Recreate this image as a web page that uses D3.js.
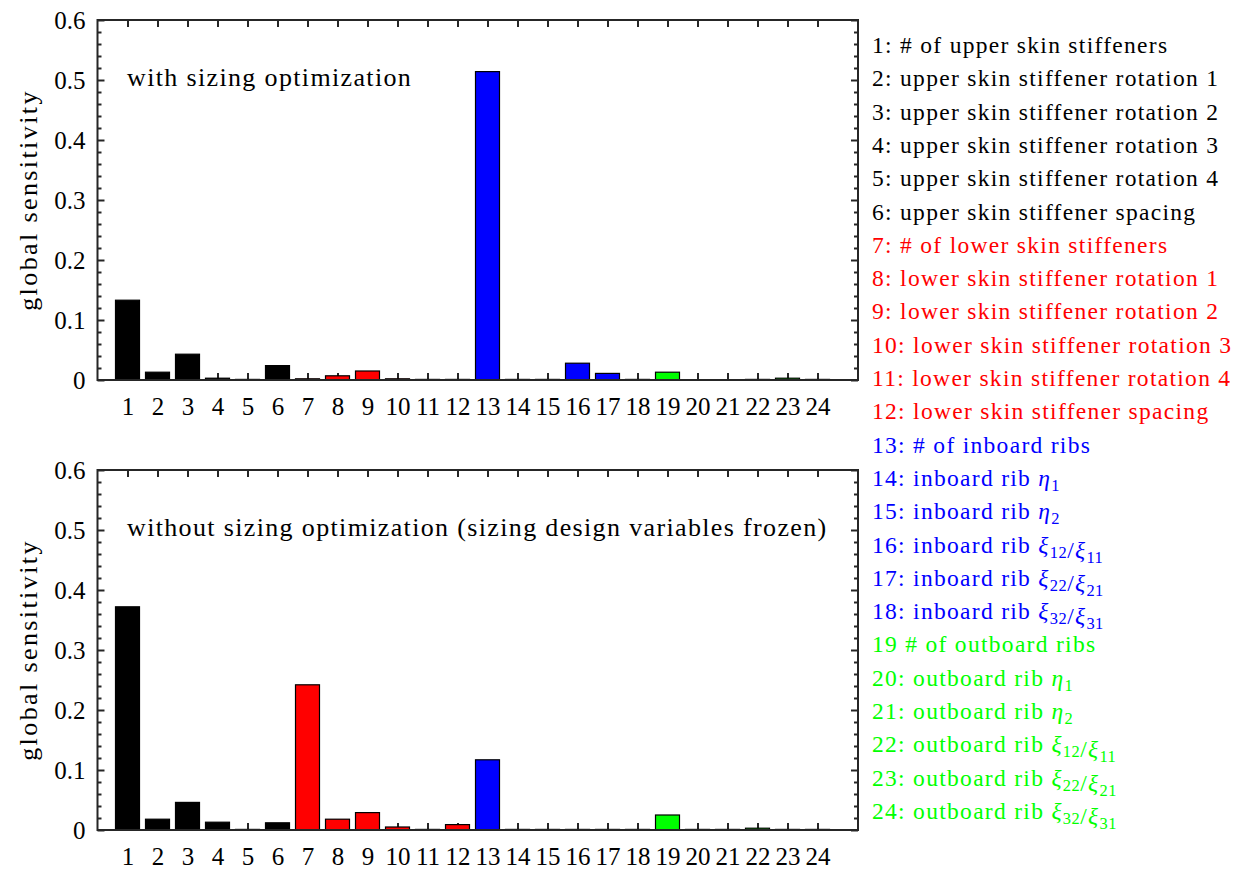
<!DOCTYPE html>
<html>
<head>
<meta charset="utf-8">
<script src="https://cdn.jsdelivr.net/npm/d3@7/dist/d3.min.js"></script>
<style>
  html, body { margin: 0; padding: 0; background: #fff; }
  svg { display: block; }
  text { font-family: "Liberation Serif", "Times New Roman", serif; }
</style>
</head>
<body>
<svg id="chart" width="1239" height="871"></svg>
<script>
// Design variable indices (1..24)
const variables = d3.range(1, 25);

// Group of each design variable (drives bar and legend colour)
const groups = [
  "upper", "upper", "upper", "upper", "upper", "upper",
  "lower", "lower", "lower", "lower", "lower", "lower",
  "inboard", "inboard", "inboard", "inboard", "inboard", "inboard",
  "outboard", "outboard", "outboard", "outboard", "outboard", "outboard"
];

// Global sensitivity with sizing optimization
const withSizing = [
  0.133, 0.013, 0.043, 0.003, 0.001, 0.024,
  0.002, 0.007, 0.015, 0.002, 0.001, 0.001,
  0.514, 0.001, 0.001, 0.028, 0.011, 0.001,
  0.013, 0.0005, 0.0005, 0.001, 0.003, 0.001
];

// Global sensitivity without sizing optimization (sizing variables frozen)
const withoutSizing = [
  0.372, 0.018, 0.046, 0.013, 0.001, 0.012,
  0.242, 0.018, 0.029, 0.005, 0.001, 0.009,
  0.117, 0.001, 0.001, 0.001, 0.001, 0.001,
  0.025, 0.001, 0.001, 0.003, 0.001, 0.001
];

const panelTitles = [
  "with sizing optimization",
  "without sizing optimization (sizing design variables frozen)"
];

const yTicks = [0, 0.1, 0.2, 0.3, 0.4, 0.5, 0.6];

const legendLabels = [
  "1: # of upper skin stiffeners",
  "2: upper skin stiffener rotation 1",
  "3: upper skin stiffener rotation 2",
  "4: upper skin stiffener rotation 3",
  "5: upper skin stiffener rotation 4",
  "6: upper skin stiffener spacing",
  "7: # of lower skin stiffeners",
  "8: lower skin stiffener rotation 1",
  "9: lower skin stiffener rotation 2",
  "10: lower skin stiffener rotation 3",
  "11: lower skin stiffener rotation 4",
  "12: lower skin stiffener spacing",
  "13: # of inboard ribs",
  "14: inboard rib η_1",
  "15: inboard rib η_2",
  "16: inboard rib ξ_12/ξ_11",
  "17: inboard rib ξ_22/ξ_21",
  "18: inboard rib ξ_32/ξ_31",
  "19 # of outboard ribs",
  "20: outboard rib η_1",
  "21: outboard rib η_2",
  "22: outboard rib ξ_12/ξ_11",
  "23: outboard rib ξ_22/ξ_21",
  "24: outboard rib ξ_32/ξ_31"
];

const groupColor = d3.scaleOrdinal()
  .domain(["upper", "lower", "inboard", "outboard"])
  .range(["#000000", "#ff0000", "#0000ff", "#00ff00"]);

const svg = d3.select("#chart");
const axisColor = "#262626";
const tickFont = 25;
const noteFont = 26;
const legendFont = 23.5;

const plotLeft = 97.5, plotRight = 858, plotHeight = 360;
const panelTops = [20, 470];
const series = [withSizing, withoutSizing];

const x = d3.scaleLinear().domain([0, 25.35]).range([plotLeft, plotRight]);
const barW = (x(1) - x(0)) * 0.8;

function styleTicks(sel) {
  sel.select(".domain").remove();
  sel.selectAll("line").attr("stroke", axisColor).attr("stroke-width", 2);
}

series.forEach((values, pi) => {
  const top = panelTops[pi];
  const bottom = top + plotHeight;
  const y = d3.scaleLinear().domain([0, 0.6]).range([bottom, top]);
  const g = svg.append("g");

  // minor y ticks on both sides
  const minor = d3.range(1, 30).filter(i => i % 5 !== 0).map(i => i * 0.02);
  g.append("g").attr("transform", `translate(${plotLeft},0)`)
    .call(d3.axisLeft(y).tickValues(minor).tickSize(-4).tickFormat(""))
    .call(styleTicks);
  g.append("g").attr("transform", `translate(${plotRight},0)`)
    .call(d3.axisRight(y).tickValues(minor).tickSize(-4).tickFormat(""))
    .call(styleTicks);

  // major y ticks, labelled on the left
  const yAxis = g.append("g").attr("transform", `translate(${plotLeft},0)`)
    .call(d3.axisLeft(y).tickValues(yTicks).tickSize(-7).tickPadding(12)
      .tickFormat(d => d === 0 ? "0" : d3.format(".1f")(d)))
    .call(styleTicks);
  yAxis.selectAll("text").attr("font-size", tickFont).attr("fill", "#000")
    .attr("font-family", "Liberation Serif");
  g.append("g").attr("transform", `translate(${plotRight},0)`)
    .call(d3.axisRight(y).tickValues(yTicks).tickSize(-7).tickFormat(""))
    .call(styleTicks);

  // x ticks on bottom and top edges
  const xAxis = g.append("g").attr("transform", `translate(0,${bottom})`)
    .call(d3.axisBottom(x).tickValues(variables).tickSize(-7).tickPadding(17).tickFormat(d3.format("d")))
    .call(styleTicks);
  xAxis.selectAll("text").attr("font-size", tickFont).attr("fill", "#000")
    .attr("font-family", "Liberation Serif");
  g.append("g").attr("transform", `translate(0,${top})`)
    .call(d3.axisTop(x).tickValues(variables).tickSize(-7).tickFormat(""))
    .call(styleTicks);

  // bars
  g.append("g").selectAll("rect")
    .data(values.map((v, i) => ({ v, k: variables[i], grp: groups[i] })))
    .join("rect")
    .attr("x", d => x(d.k) - barW / 2)
    .attr("width", barW)
    .attr("y", d => y(d.v))
    .attr("height", d => y(0) - y(d.v))
    .attr("fill", d => groupColor(d.grp))
    .attr("stroke", "#000")
    .attr("stroke-width", 1.2);

  // frame
  g.append("rect")
    .attr("x", plotLeft).attr("y", top)
    .attr("width", plotRight - plotLeft).attr("height", plotHeight)
    .attr("fill", "none").attr("stroke", axisColor).attr("stroke-width", 2);

  // panel annotation
  g.append("text")
    .attr("x", 127).attr("y", top + 66)
    .attr("font-size", noteFont)
    .attr("letter-spacing", 1.35)
    .attr("fill", "#000")
    .text(panelTitles[pi]);

  // y-axis title
  g.append("text")
    .attr("transform", `translate(37,${top + plotHeight / 2}) rotate(-90)`)
    .attr("text-anchor", "middle")
    .attr("font-size", noteFont)
    .attr("letter-spacing", 2.4)
    .attr("fill", "#000")
    .text("global sensitivity");
});

// legend listing the design variables, coloured by group
const legend = svg.append("g");
legendLabels.forEach((label, i) => {
  const t = legend.append("text")
    .attr("x", 872)
    .attr("y", 53 + i * 33.3)
    .attr("font-size", legendFont)
    .attr("letter-spacing", 1.3)
    .attr("fill", groupColor(groups[i]));
  label.split(/([ηξ]_\d+)/).forEach(p => {
    const m = p.match(/^([ηξ])_(\d+)$/);
    if (m) {
      t.append("tspan").attr("font-style", "italic").text(m[1]);
      t.append("tspan").attr("font-size", legendFont * 0.7).attr("dy", 5).attr("letter-spacing", 0.5).text(m[2]);
      t.append("tspan").attr("dy", -5).text("");
    } else if (p.length) {
      t.append("tspan").text(p);
    }
  });
});
</script>
</body>
</html>
